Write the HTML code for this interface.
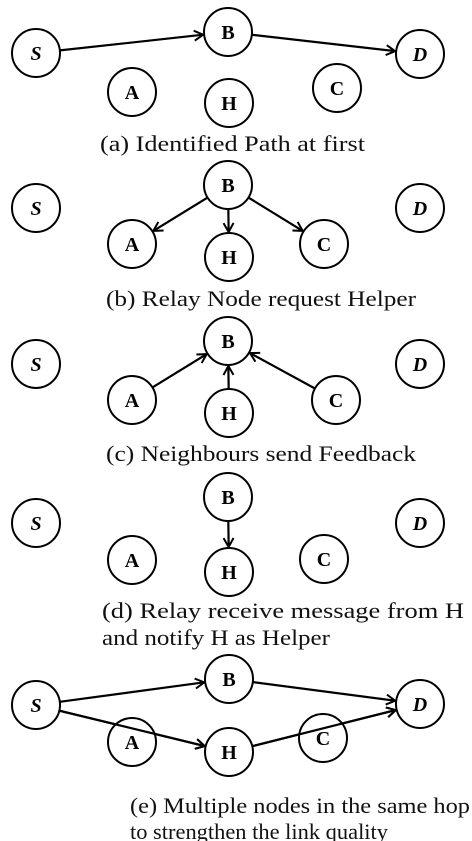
<!DOCTYPE html>
<html><head><meta charset="utf-8"><style>
html,body{margin:0;padding:0;background:#fff}
svg{display:block}
.n{fill:#fff;stroke:#000;stroke-width:2}
.l{font-family:"Liberation Serif",serif;font-weight:bold;font-size:20px;text-anchor:middle}
.i{font-style:italic}
.e{stroke:#000;stroke-width:2.2;fill:none;marker-end:url(#ah)}
.cap{font-family:"Liberation Serif",serif;font-size:22px;fill:#111}
</style></head><body>
<svg id="dg" width="472" height="841" viewBox="0 0 472 841">
<defs><marker id="ah" markerWidth="12" markerHeight="12" refX="10" refY="6" orient="auto" markerUnits="userSpaceOnUse"><path d="M1,1 L10,6 L1,11" fill="none" stroke="#000" stroke-width="2"/></marker></defs>
</svg>
<script>
const panels=[
 {S:[36,53],B:[228,32],D:[420,54],A:[132,92],H:[229,103],C:[337,88],edges:[["S","B"],["B","D"]],cap:[["(a) Identified Path at first",100,151,265]]},
 {S:[36,208],B:[228,185],D:[420,208],A:[132,244],H:[229,257],C:[324,244],edges:[["B","A"],["B","H"],["B","C"]],cap:[["(b) Relay Node request Helper",106,306,310]]},
 {S:[36,364],B:[228,341],D:[420,364],A:[132,400],H:[229,413],C:[336,400],edges:[["A","B"],["H","B"],["C","B"]],cap:[["(c) Neighbours send Feedback",106,461,310]]},
 {S:[36,523],B:[228,497],D:[420,523],A:[132,560],H:[229,572],C:[324,559],edges:[["B","H"]],cap:[["(d) Relay receive message from H",102,618,362],["and notify H as Helper",102,645,228]]},
 {S:[36,705],B:[229,679],D:[420,704],A:[132,742],H:[229,752],C:[323,738],edges:[["S","B"],["B","D"],["S","H"],["H","D"]],cap:[["(e) Multiple nodes in the same hop",130,813,340],["to strengthen the link quality",130,839,258]]}
];
const R=24, names=["S","B","D","A","H","C"];
const svg=document.getElementById('dg'), NS="http://www.w3.org/2000/svg";
function mk(t,a){const e=document.createElementNS(NS,t);for(const k in a)e.setAttribute(k,a[k]);return e;}
panels.forEach((p,pi)=>{
 const g=mk('g',{});
 
 
 p.edges.forEach(([a,b])=>{
  const [x1,y1]=p[a],[x2,y2]=p[b];const dx=x2-x1,dy=y2-y1,d=Math.hypot(dx,dy);
  const ln=mk('line',{x1:x1+dx/d*R,y1:y1+dy/d*R,x2:x2-dx/d*(R+1),y2:y2-dy/d*(R+1),class:'e'});
  
  
  g.appendChild(ln);
 });
 names.forEach(n=>{
  const [x,y]=p[n];
  const c=mk('circle',{cx:x,cy:y,r:R,class:'n'});
  
  
  g.appendChild(c);
  const t=mk('text',{x:x,y:y+7,class:'l'+((n=="S"||n=="D")?' i':'')});
  t.textContent=n;
  
  
  g.appendChild(t);
 });
 p.cap.forEach(([s,x,y,w])=>{
  const t=mk('text',{x:x,y:y,class:'cap',textLength:w,lengthAdjust:'spacingAndGlyphs'});
  t.textContent=s;
  
  
  g.appendChild(t);
 });
 svg.appendChild(g);
});
const ge=svg.lastChild;
[["S","H"],["H","D"]].forEach(([a,b])=>{
 const p=panels[4];const [x1,y1]=p[a],[x2,y2]=p[b];const dx=x2-x1,dy=y2-y1,d=Math.hypot(dx,dy);
 const ln=mk('line',{x1:x1+dx/d*R,y1:y1+dy/d*R,x2:x2-dx/d*(R+1),y2:y2-dy/d*(R+1),class:'e'});
 
 
 ge.appendChild(ln);
});
</script>
</body></html>
